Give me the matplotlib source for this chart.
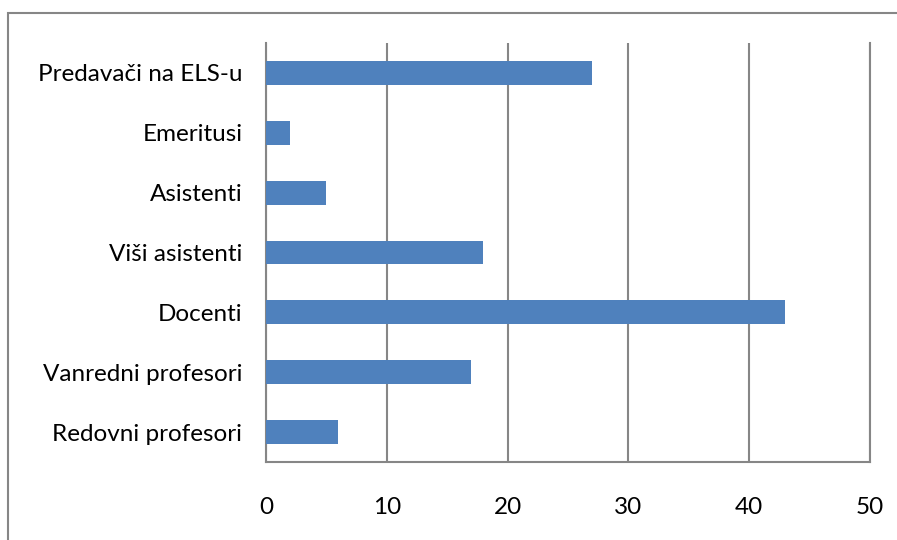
import matplotlib.pyplot as plt
from matplotlib.patches import Rectangle

categories = ['Redovni profesori', 'Vanredni profesori', 'Docenti', 'Viši asistenti',
              'Asistenti', 'Emeritusi', 'Predavači na ELS-u']
values = [6, 17, 43, 18, 5, 2, 27]
xticks = [0, 10, 20, 30, 40, 50]

plt.rcParams['font.family'] = ['Lato', 'DejaVu Sans']

fig = plt.figure(figsize=(8.97, 5.40), dpi=100)
# outer chart border (clipped at the right and bottom like the original)
fig.patches.append(Rectangle((8 / 897, -0.1), 1.2, 1 - 13 / 540 + 0.1,
                             transform=fig.transFigure, fill=False,
                             edgecolor='#868686', linewidth=1.5))

ax = fig.add_axes([266 / 897, 1 - 462 / 540, (870 - 266) / 897, (462 - 43) / 540])
y = list(range(len(categories)))
ax.barh(y, values, height=0.4, color='#4F81BD', zorder=3)

ax.set_xlim(0, 50)
ax.set_ylim(-0.5, len(categories) - 0.5)
ax.set_xticks(xticks)
ax.set_yticks(y)
ax.set_yticklabels(categories)
ax.tick_params(axis='both', length=0, labelsize=17.5, colors='black')
ax.tick_params(axis='y', pad=17)
ax.tick_params(axis='x', pad=25)
ax.xaxis.grid(True, color='#868686', linewidth=1.5, zorder=0)

ax.spines['top'].set_visible(False)
for s in ['left', 'right', 'bottom']:
    ax.spines[s].set_color('#868686')
    ax.spines[s].set_linewidth(1.5)

fig.savefig('out.png', dpi=100)
